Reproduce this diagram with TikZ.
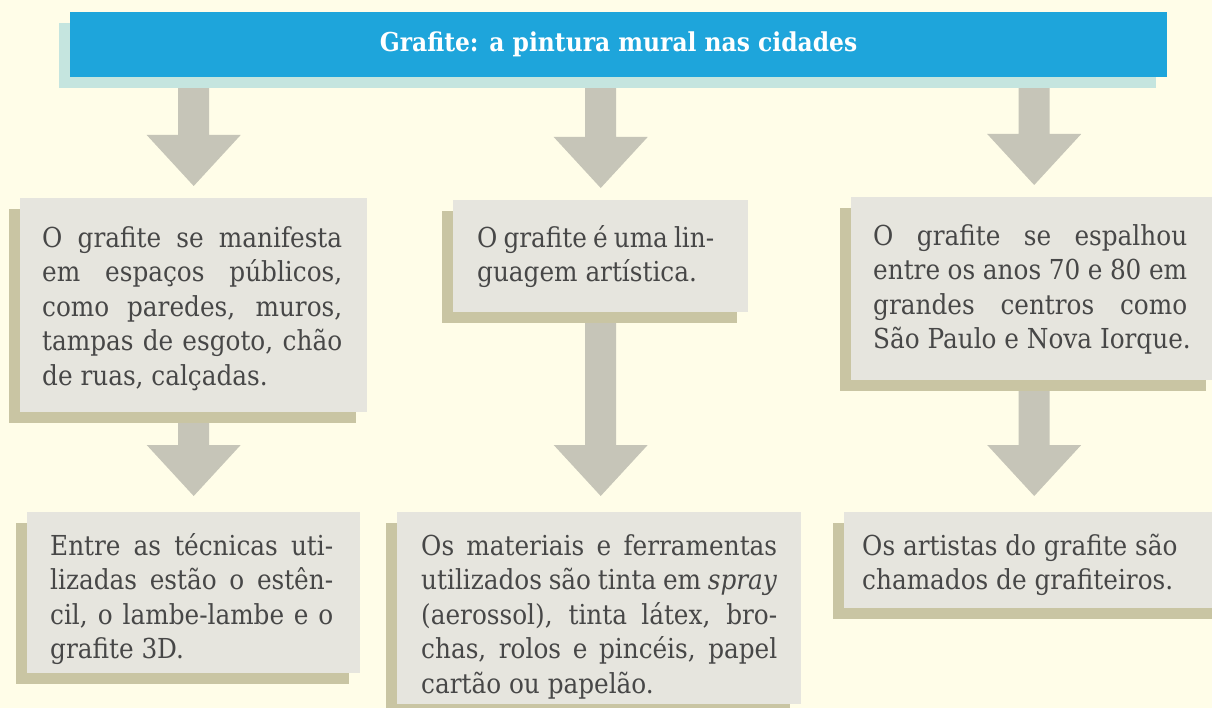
\documentclass[tikz,border=0pt]{standalone}
\usepackage{fontspec}
\setmainfont{DejaVu Serif Condensed}
\usetikzlibrary{calc,shadows}
\definecolor{bgc}{HTML}{FFFDE8}
\definecolor{titlec}{HTML}{1EA5DB}
\definecolor{titlesh}{HTML}{C5E5DF}
\definecolor{boxc}{HTML}{E6E5DE}
\definecolor{boxsh}{HTML}{C9C5A3}
\definecolor{arrc}{HTML}{C6C5B8}
\definecolor{txtc}{HTML}{474747}
\pgfdeclarelayer{bg}
\pgfsetlayers{bg,main}
\newcommand\jline[2]{\makebox[#1pt][s]{#2}}
\newcommand\boxtext[5]{\parbox[t][#2pt][t]{#1pt}{\vspace*{#3pt}\hspace*{#4pt}\parbox[t]{\dimexpr#1pt-#4pt-2pt\relax}{\rule{0pt}{22pt}#5}}}
\newcommand\blockarrow[2]{\fill[arrc] let \p1=(#1), \p2=(#2) in
  (\x1-15.5pt,\y1) -- (\x1+15.5pt,\y1) -- (\x1+15.5pt,\y2+51pt) -- (\x1+47pt,\y2+51pt)
  -- (\x1,\y2) -- (\x1-47pt,\y2+51pt) -- (\x1-15.5pt,\y2+51pt) -- cycle;}
\tikzset{
  box/.style={fill=boxc, text=txtc, inner sep=0pt, anchor=north west,
    font=\fontsize{27.5}{34.5}\selectfont,
    drop shadow={shadow xshift=-11pt, shadow yshift=-11pt, fill=boxsh, opacity=1}},
  titlebox/.style={fill=titlec, text=white, inner sep=0pt, minimum width=1097pt,
    minimum height=65pt, font=\bfseries\fontsize{26}{30}\selectfont,
    drop shadow={shadow xshift=-11pt, shadow yshift=-11pt, fill=titlesh, opacity=1}}
}
\begin{document}
\begin{tikzpicture}[x=1pt,y=-1pt]
\begin{pgfonlayer}{bg}
\fill[bgc] (0,0) rectangle (1212,708);
\end{pgfonlayer}
\useasboundingbox (0,0) rectangle (1212,708);

\node[titlebox] (title) at (618.5,44.5) {Grafite: a pintura mural nas cidades};

\node[box] (b1) at (20,198) {\boxtext{347}{214}{27}{22}{%
\jline{300}{O grafite se manifesta}\\
\jline{300}{em espaços públicos,}\\
\jline{300}{como paredes, muros,}\\
\jline{300}{tampas de esgoto, chão}\\
de ruas, calçadas.}};

\node[box] (b2) at (453,200) {\boxtext{295}{112}{25}{24}{%
\jline{237}{O grafite é uma lin-}\\
guagem artística.}};

\node[box] (b3) at (851,197) {\boxtext{366}{183}{26}{22}{%
\jline{314}{O grafite se espalhou}\\
\jline{314}{entre os anos 70 e 80 em}\\
\jline{314}{grandes centros como}\\
São Paulo e Nova Iorque.}};

\node[box] (b4) at (27,512) {\boxtext{333}{161}{21}{23}{%
\jline{283}{Entre as técnicas uti-}\\
\jline{283}{lizadas estão o estên-}\\
\jline{283}{cil, o lambe-lambe e o}\\
grafite 3D.}};

\node[box] (b5) at (397,512) {\boxtext{404}{192}{21}{24}{%
\jline{356}{Os materiais e ferramentas}\\
\jline{356}{utilizados são tinta em \textit{spray}}\\
\jline{356}{(aerossol), tinta látex, bro-}\\
\jline{356}{chas, rolos e pincéis, papel}\\
cartão ou papelão.}};

\node[box] (b6) at (844,512) {\boxtext{382}{96}{21}{18}{%
Os artistas do grafite são\\
chamados de grafiteiros.}};

\begin{pgfonlayer}{bg}
\blockarrow{b1.north |- title.south}{$(b1.north)+(0,-12)$}
\blockarrow{b2.north |- title.south}{$(b2.north)+(0,-12)$}
\blockarrow{b3.north |- title.south}{$(b3.north)+(0,-12)$}
\blockarrow{b1.south}{$(b4.north -| b1.south)+(0,-16)$}
\blockarrow{b2.south}{$(b5.north -| b2.south)+(0,-16)$}
\blockarrow{b3.south}{$(b6.north -| b3.south)+(0,-16)$}
\end{pgfonlayer}
\end{tikzpicture}
\end{document}
